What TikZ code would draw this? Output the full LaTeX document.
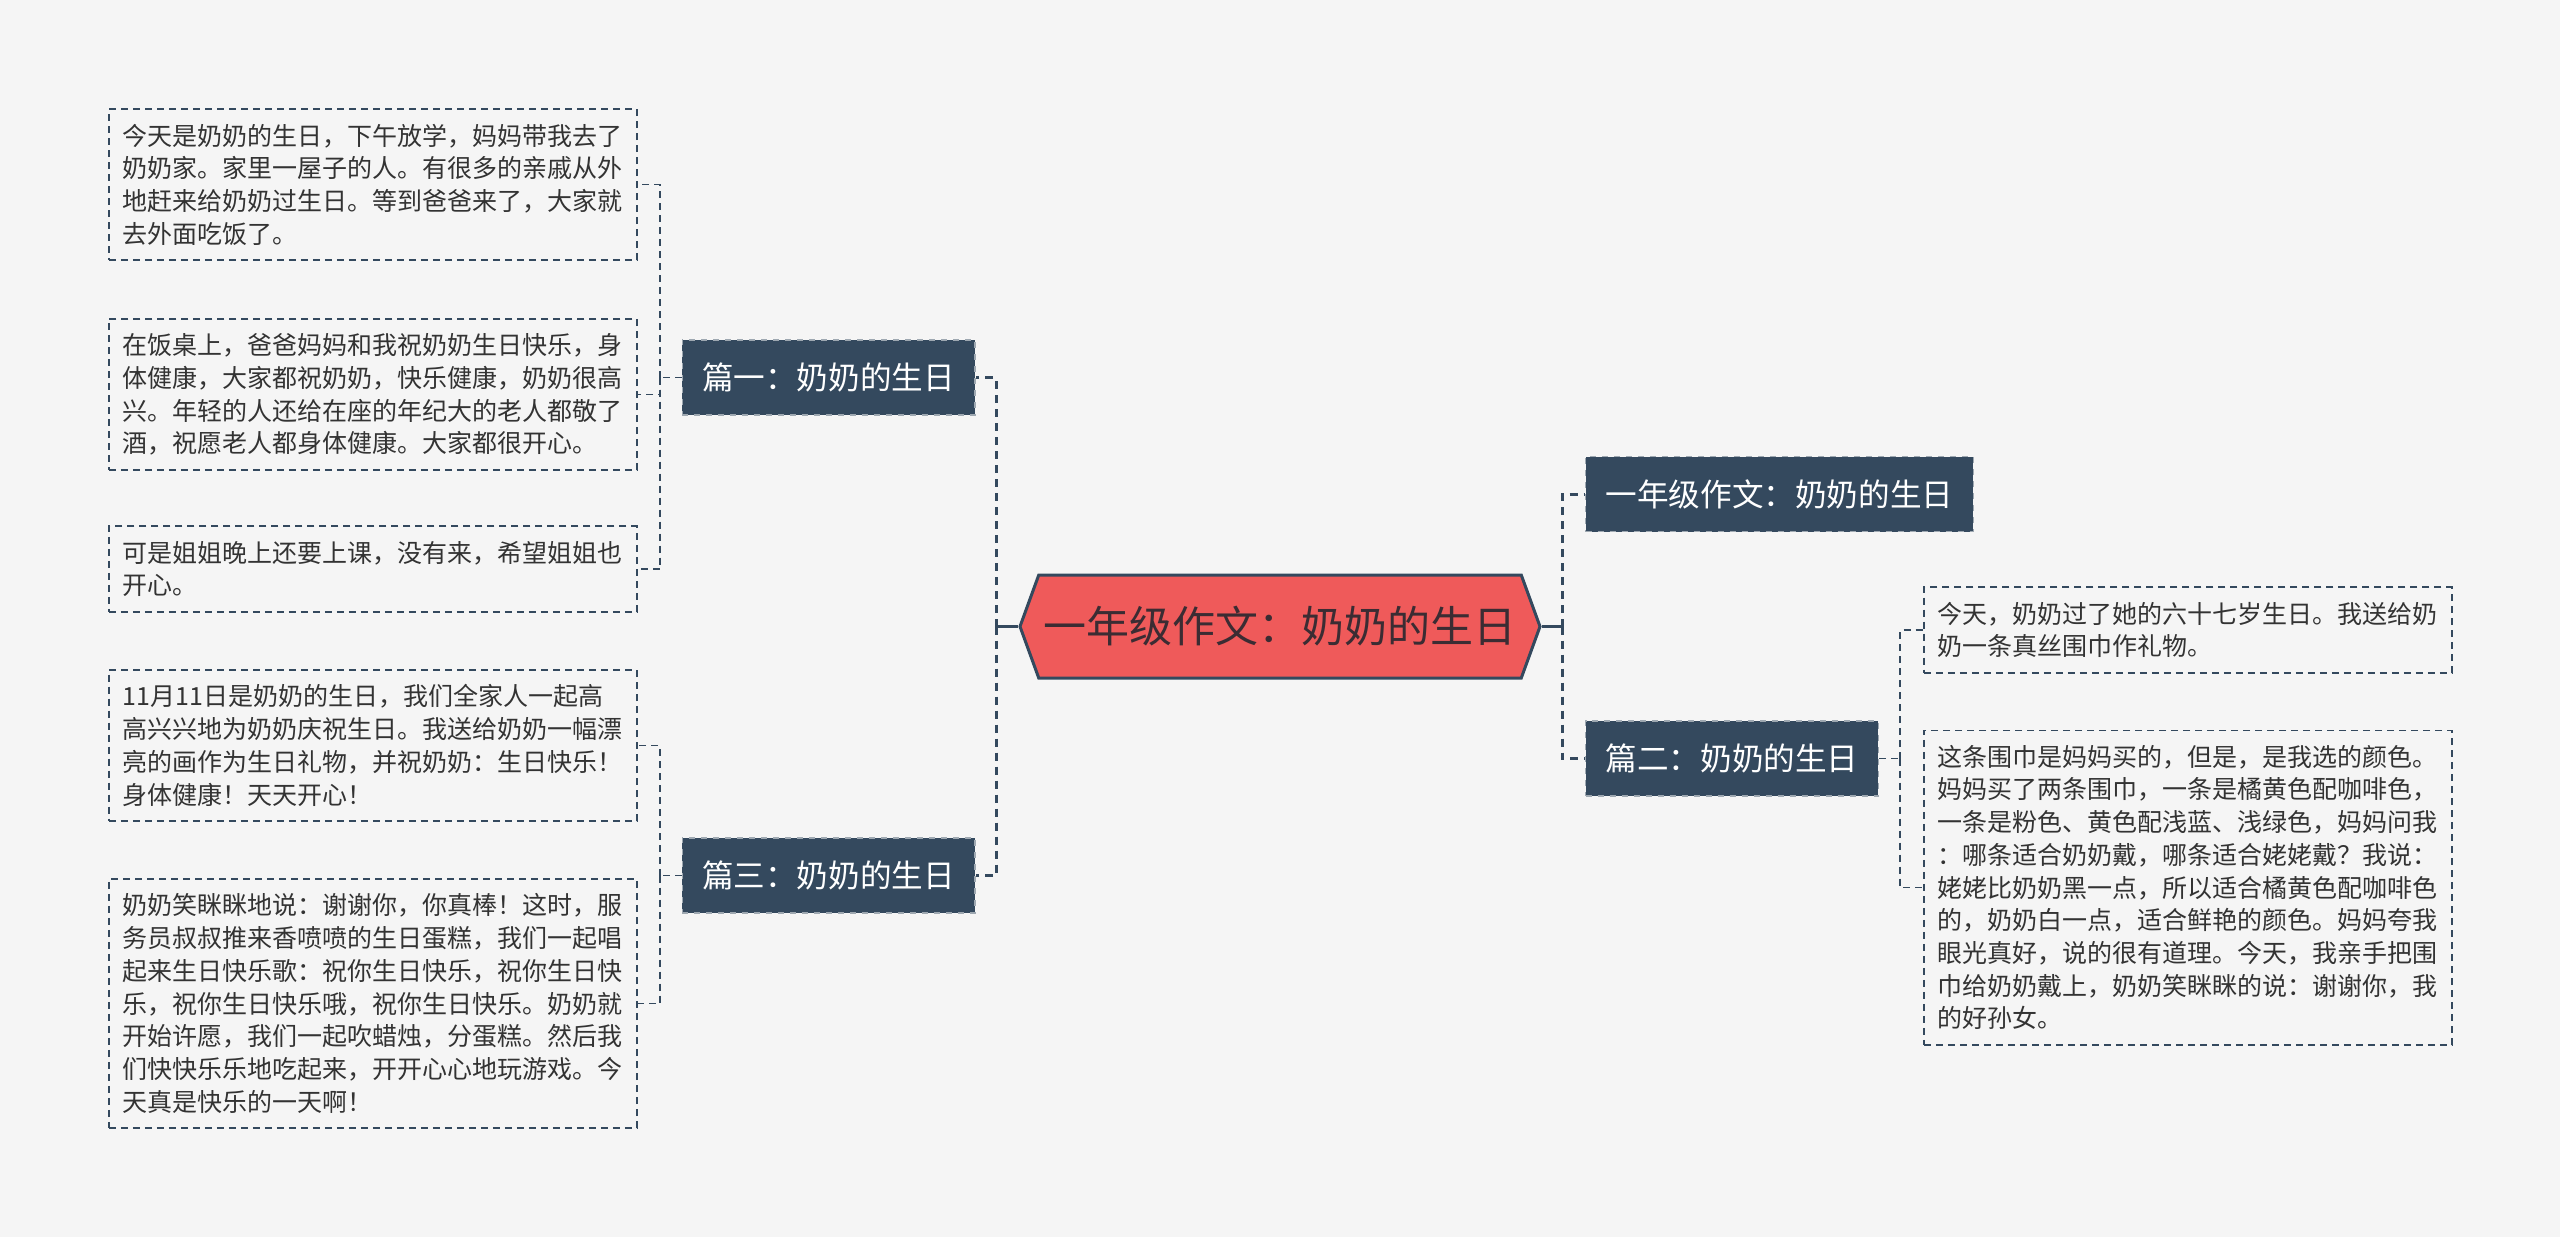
\documentclass[tikz,border=0pt]{standalone}
\usepackage{fontspec}
\setmainfont{Noto Sans CJK SC}
\usetikzlibrary{shapes.symbols}

\definecolor{asphalt}{HTML}{34495E}
\definecolor{coral}{HTML}{EF5A5A}
\definecolor{paper}{HTML}{F5F5F5}
\definecolor{ink}{HTML}{333333}
\definecolor{rootink}{HTML}{3B2C33}

\begin{document}
\begin{tikzpicture}[
    x=0.5pt, y=-0.5pt,
    root node/.style={signal, signal to=west and east, signal pointer angle=140, fill=coral, draw=asphalt, line width=1.5pt, text=rootink, minimum width=260pt, minimum height=51.5pt, inner xsep=0pt, font=\fontsize{21.5}{26}\selectfont},
    branch node/.style={fill=asphalt, draw=paper!55!asphalt, dashed, line width=0.6pt, text=white, minimum height=37.5pt, inner xsep=10pt, font=\fontsize{15.8}{19}\selectfont},
    leaf node/.style={draw=asphalt, dash pattern=on 3.5pt off 2.5pt, line width=0.8pt, text=ink, align=left, text width=250pt, inner xsep=7pt, inner ysep=7.4pt, anchor=west, font=\fontsize{12.5}{16.35}\selectfont},
    trunk edge/.style={draw=asphalt, line width=1.5pt},
    trunk dash/.style={draw=asphalt, line width=1.5pt, dash pattern=on 4pt off 3pt},
    leaf edge/.style={draw=asphalt, line width=0.9pt, dash pattern=on 3.5pt off 2.5pt}
]
\fill[paper] (0,0) rectangle (2560,1237);
\useasboundingbox (0,0) rectangle (2560,1237);

% 中心主题
\node[root node] (C) at (1280,626.5) {一年级作文：奶奶的生日};

% 左侧: 篇一、篇三
\node[branch node] (B1) at (828.5,377.5) {篇一：奶奶的生日};
\node[branch node] (B3) at (828.5,875.5) {篇三：奶奶的生日};

\node[leaf node] (L1) at (108,184.5) {今天是奶奶的生日，下午放学，妈妈带我去了\\奶奶家。家里一屋子的人。有很多的亲戚从外\\地赶来给奶奶过生日。等到爸爸来了，大家就\\去外面吃饭了。};
\node[leaf node] (L2) at (108,394.5) {在饭桌上，爸爸妈妈和我祝奶奶生日快乐，身\\体健康，大家都祝奶奶，快乐健康，奶奶很高\\兴。年轻的人还给在座的年纪大的老人都敬了\\酒，祝愿老人都身体健康。大家都很开心。};
\node[leaf node] (L3) at (108,569) {可是姐姐晚上还要上课，没有来，希望姐姐也\\开心。};
\node[leaf node] (L4) at (108,745.5) {11月11日是奶奶的生日，我们全家人一起高\\高兴兴地为奶奶庆祝生日。我送给奶奶一幅漂\\亮的画作为生日礼物，并祝奶奶：生日快乐！\\身体健康！天天开心！};
\node[leaf node] (L5) at (108,1003.5) {奶奶笑眯眯地说：谢谢你，你真棒！这时，服\\务员叔叔推来香喷喷的生日蛋糕，我们一起唱\\起来生日快乐歌：祝你生日快乐，祝你生日快\\乐，祝你生日快乐哦，祝你生日快乐。奶奶就\\开始许愿，我们一起吹蜡烛，分蛋糕。然后我\\们快快乐乐地吃起来，开开心心地玩游戏。今\\天真是快乐的一天啊！};

% 右侧: 一年级作文、篇二
\node[branch node, anchor=west] (RB1) at (1585,494) {一年级作文：奶奶的生日};
\node[branch node, anchor=west] (RB2) at (1585,758.5) {篇二：奶奶的生日};

\node[leaf node] (R1) at (1923,630) {今天，奶奶过了她的六十七岁生日。我送给奶\\奶一条真丝围巾作礼物。};
\node[leaf node] (R2) at (1923,887.5) {这条围巾是妈妈买的，但是，是我选的颜色。\\妈妈买了两条围巾，一条是橘黄色配咖啡色，\\一条是粉色、黄色配浅蓝、浅绿色，妈妈问我\\：哪条适合奶奶戴，哪条适合姥姥戴？我说：\\姥姥比奶奶黑一点，所以适合橘黄色配咖啡色\\的，奶奶白一点，适合鲜艳的颜色。妈妈夸我\\眼光真好，说的很有道理。今天，我亲手把围\\巾给奶奶戴上，奶奶笑眯眯的说：谢谢你，我\\的好孙女。};

% 分叉点
\coordinate (jL) at (996,626.5);
\coordinate (jR) at (1562,626.5);
\coordinate (j1) at (660,377.5);
\coordinate (j3) at (660,875.5);
\coordinate (j2) at (1900,758.5);

% 中心 -> 各分支
\draw[trunk edge] (C.west) -- (jL);
\draw[trunk edge] (C.east) -- (jR);
\draw[trunk dash] (jL) |- (B1.east);
\draw[trunk dash] (jL) |- (B3.east);
\draw[trunk dash] (jR) |- (RB1.west);
\draw[trunk dash] (jR) |- (RB2.west);

% 分支 -> 段落
\draw[leaf edge] (B1.west) -- (j1);
\foreach \n in {L1,L2,L3} \draw[leaf edge] (j1) |- (\n.east);
\draw[leaf edge] (B3.west) -- (j3);
\foreach \n in {L4,L5} \draw[leaf edge] (j3) |- (\n.east);
\draw[leaf edge] (RB2.east) -- (j2);
\foreach \n in {R1,R2} \draw[leaf edge] (j2) |- (\n.west);

\end{tikzpicture}
\end{document}
